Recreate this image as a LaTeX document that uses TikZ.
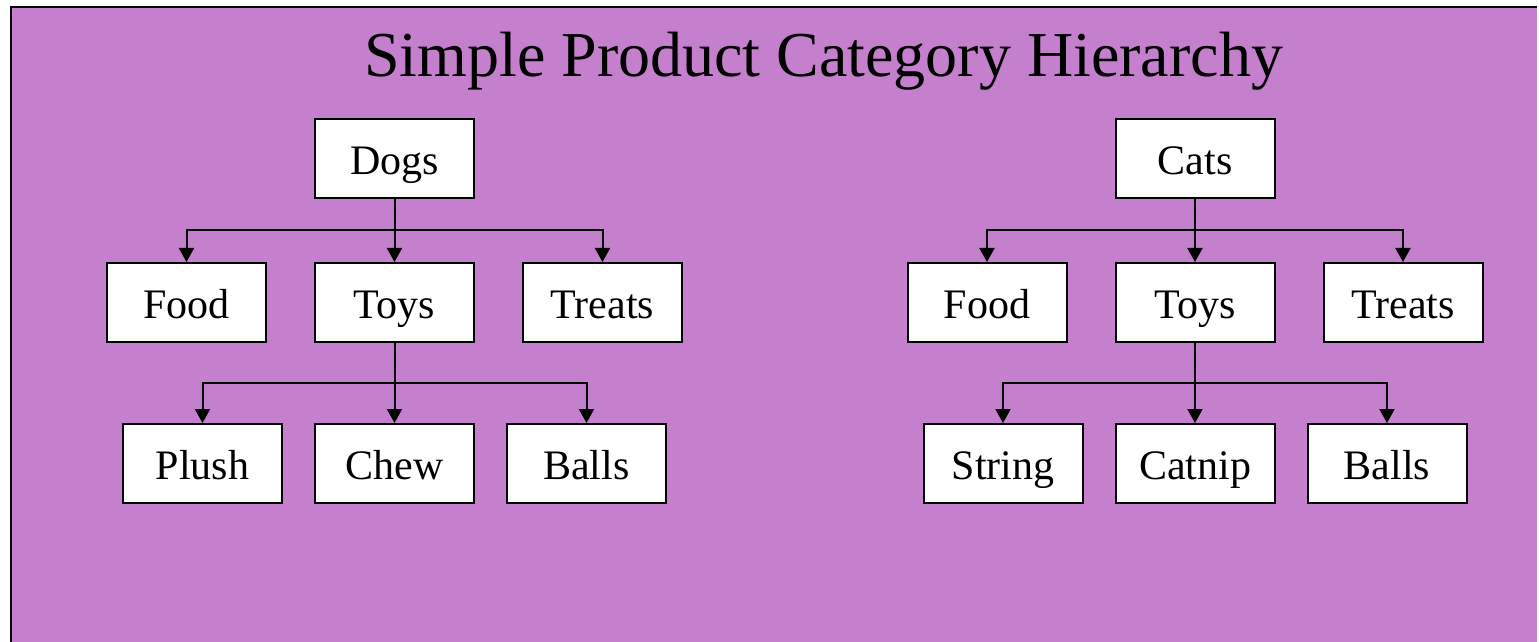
\documentclass[tikz,border=0pt]{standalone}
\usepackage{fontspec}
\setmainfont{Liberation Serif}
\usepackage{tikz}
\usetikzlibrary{positioning,arrows.meta,calc}

\definecolor{bgpurple}{RGB}{196,128,204}

\begin{document}
\begin{tikzpicture}[
    x=0.5pt, y=-0.5pt,
    node distance=31.5pt and 23.5pt,
    box/.style={draw, line width=1pt, fill=white, align=center, minimum width=79.5pt, minimum height=39.5pt, inner sep=0pt, text height=16pt, text depth=0pt, font=\fontsize{21}{25}\selectfont},
    arr/.style={-{Triangle[length=7pt, width=7.5pt]}, line width=1pt}
]
\useasboundingbox (0,0) rectangle (1539,642);
\fill[bgpurple] (11,7) rectangle (1537,642);
\draw[line width=1pt] (11,642) -- (11,7) -- (1537,7);

\node[anchor=base, font=\fontsize{32}{38}\selectfont] (title) at (823.5,77) {Simple Product Category Hierarchy};

% dogs
\node[box] (dogs) at (394.5,158.5) {Dogs};
\node[box, below=of dogs] (dtoys) {Toys};
\node[box, left=of dtoys] (dfood) {Food};
\node[box, right=of dtoys] (dtreats) {Treats};
\node[box, below=40pt of dtoys] (chew) {Chew};
\node[box, left=15.5pt of chew] (plush) {Plush};
\node[box, right=15.5pt of chew] (dballs) {Balls};

% cats
\node[box] (cats) at (1195,158.5) {Cats};
\node[box, below=of cats] (ctoys) {Toys};
\node[box, left=of ctoys] (cfood) {Food};
\node[box, right=of ctoys] (ctreats) {Treats};
\node[box, below=40pt of ctoys] (catnip) {Catnip};
\node[box, left=15.5pt of catnip] (string) {String};
\node[box, right=15.5pt of catnip] (cballs) {Balls};

\coordinate (dfork) at ($(dogs.south)!.5!(dtoys.north)$);
\coordinate (dtfork) at ($(dtoys.south)!.5!(chew.north)$);
\coordinate (cfork) at ($(cats.south)!.5!(ctoys.north)$);
\coordinate (ctfork) at ($(ctoys.south)!.5!(catnip.north)$);

\draw[arr] (dogs) -- (dtoys);
\draw[arr] (dogs.south) -- (dfork) -| (dfood.north);
\draw[arr] (dogs.south) -- (dfork) -| (dtreats.north);
\draw[arr] (dtoys) -- (chew);
\draw[arr] (dtoys.south) -- (dtfork) -| (plush.north);
\draw[arr] (dtoys.south) -- (dtfork) -| (dballs.north);

\draw[arr] (cats) -- (ctoys);
\draw[arr] (cats.south) -- (cfork) -| (cfood.north);
\draw[arr] (cats.south) -- (cfork) -| (ctreats.north);
\draw[arr] (ctoys) -- (catnip);
\draw[arr] (ctoys.south) -- (ctfork) -| (string.north);
\draw[arr] (ctoys.south) -- (ctfork) -| (cballs.north);
\end{tikzpicture}
\end{document}
